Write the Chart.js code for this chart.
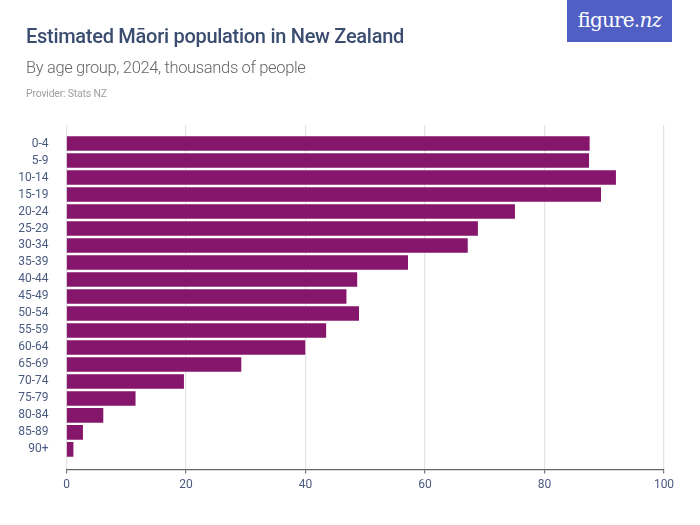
<!DOCTYPE html>
<html><head><meta charset="utf-8">
<script src="https://cdn.jsdelivr.net/npm/chart.js@4"></script>
<style>
html,body{margin:0;padding:0;background:#fff;width:700px;height:525px;overflow:hidden}
#wrap{position:relative;width:700px;height:525px}
canvas{position:absolute;left:0;top:0}
.t{position:absolute;white-space:nowrap;font-family:Roboto,sans-serif}
#title{left:26px;top:24px;font-size:20px;font-weight:500;color:#3a4d70;letter-spacing:-.28px}
#sub{left:26px;top:58px;font-size:16.5px;font-weight:300;color:#666;letter-spacing:-.35px}
#prov{left:26px;top:87px;font-size:10.5px;color:#a0a0a0;letter-spacing:-.2px}
#logo{left:567px;top:0;width:105px;height:42px;background:#4f5fc4;color:#fff;font-family:"DejaVu Serif",serif;font-size:20px;line-height:41px;text-align:center;letter-spacing:-.8px}
#logo i{font-style:italic}
</style></head><body>
<div id="wrap">
<canvas id="c" width="700" height="525"></canvas>
<div class="t" id="title">Estimated Māori population in New Zealand</div>
<div class="t" id="sub">By age group, 2024, thousands of people</div>
<div class="t" id="prov">Provider: Stats NZ</div>
<div class="t" id="logo">figure.<i>nz</i></div>
</div>
<script>
const ageGroups = ["0-4","5-9","10-14","15-19","20-24","25-29","30-34","35-39","40-44","45-49","50-54","55-59","60-64","65-69","70-74","75-79","80-84","85-89","90+"];
const population = [87.5,87.4,91.9,89.4,75.0,68.8,67.1,57.1,48.6,46.8,48.9,43.4,39.9,29.2,19.6,11.5,6.1,2.7,1.1];
const xTicks = [0,20,40,60,80,100];
const fontFamily = "Roboto, sans-serif";
new Chart(document.getElementById('c'), {
  type: 'bar',
  data: { labels: ageGroups, datasets: [{ data: population, backgroundColor: '#86166b', barThickness: 14, borderWidth: 0 }] },
  options: {
    indexAxis: 'y', responsive: false, animation: false, devicePixelRatio: 1,
    layout: { padding: { top: 125, right: 36, left: 0, bottom: 0 } },
    plugins: { legend: { display: false }, title: { display: false }, tooltip: { enabled: false } },
    scales: {
      x: {
        type: 'linear', min: 0, max: 100,
        afterBuildTicks: s => { s.ticks = xTicks.map(v => ({ value: v })); },
        afterFit: s => { s.height = 55.5; },
        grid: { color: '#e3e3e3', lineWidth: 1.2, drawTicks: true, tickLength: 4, tickColor: '#777' },
        border: { color: '#666', width: 1.2 },
        ticks: { color: '#4a5b80', font: { family: fontFamily, size: 12 }, padding: 4, maxRotation: 0 }
      },
      y: {
        type: 'category',
        afterBuildTicks: s => { s._startValue = -1.09; s._valueRange = 20.27; },
        afterFit: s => { s.width = 66.5; },
        grid: { display: false },
        border: { display: false },
        ticks: { color: '#4a5b80', font: { family: fontFamily, size: 12 }, padding: 10, autoSkip: false, maxRotation: 0 }
      }
    }
  }
});
</script>
</body></html>
